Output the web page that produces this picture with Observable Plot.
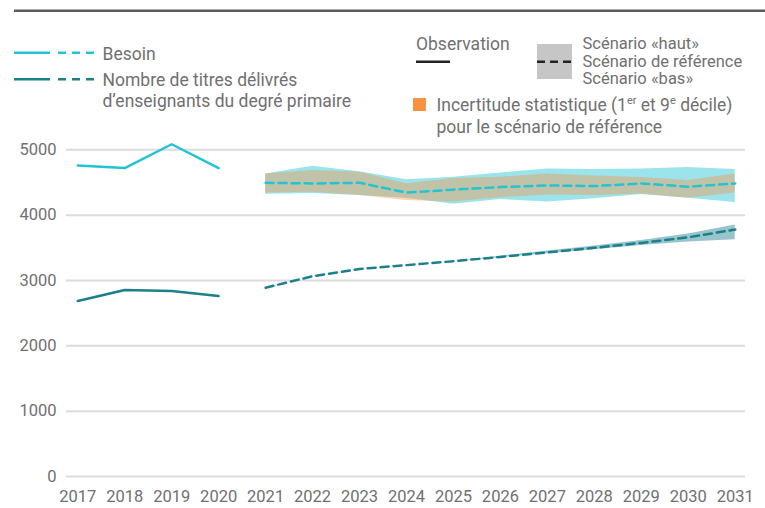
<!DOCTYPE html>
<html>
<head>
<meta charset="utf-8">
<script src="https://cdn.jsdelivr.net/npm/d3@7"></script>
<script src="https://cdn.jsdelivr.net/npm/@observablehq/plot@0.6"></script>
<style>
  html, body { margin: 0; padding: 0; background: #fff; }
  #wrap { position: relative; width: 765px; height: 508px; overflow: hidden; font-family: Roboto, sans-serif; }
  #wrap > svg { position: absolute; left: 0; top: 0; }
  #legend { pointer-events: none; }
</style>
</head>
<body>
<div id="wrap"></div>
<script>
// ---- data ----
const yearsObs = [2017, 2018, 2019, 2020];
const besoinObs = [4760, 4720, 5085, 4720];
const titresObs = [2685, 2853, 2838, 2761];

const yearsProj = [2021, 2022, 2023, 2024, 2025, 2026, 2027, 2028, 2029, 2030, 2031];
const besoinRef  = [4495, 4485, 4495, 4345, 4390, 4430, 4455, 4445, 4485, 4435, 4485];
const besoinHaut = [4630, 4750, 4665, 4540, 4580, 4645, 4705, 4700, 4705, 4730, 4700];
const besoinBas  = [4320, 4330, 4300, 4260, 4165, 4240, 4200, 4250, 4315, 4260, 4195];
const incertHi   = [4630, 4685, 4655, 4480, 4560, 4580, 4630, 4600, 4575, 4530, 4630];
const incertLo   = [4340, 4350, 4300, 4225, 4200, 4265, 4310, 4300, 4325, 4260, 4340];

const titresRef  = [2890, 3065, 3175, 3235, 3295, 3360, 3430, 3500, 3575, 3660, 3780];
const titresHaut = [2890, 3065, 3175, 3235, 3295, 3372, 3450, 3528, 3612, 3710, 3850];
const titresBas  = [2890, 3065, 3175, 3235, 3295, 3348, 3410, 3470, 3535, 3590, 3625];

const yTicks = [0, 1000, 2000, 3000, 4000, 5000];
const xTicks = [2017, 2018, 2019, 2020, 2021, 2022, 2023, 2024, 2025, 2026, 2027, 2028, 2029, 2030, 2031];

// ---- tables ----
const obs = yearsObs.map((year, i) => ({year, besoin: besoinObs[i], titres: titresObs[i]}));
const proj = yearsProj.map((year, i) => ({
  year, bRef: besoinRef[i], bHaut: besoinHaut[i], bBas: besoinBas[i],
  iHi: incertHi[i], iLo: incertLo[i],
  tRef: titresRef[i], tHaut: titresHaut[i], tBas: titresBas[i]
}));

const cBesoin = "#22c4d4";
const cTitres = "#1b7f8c";
const cOrange = "#f79240";
const txt = "#707070";

const plot = Plot.plot({
  width: 765,
  height: 508,
  marginTop: 149.3,
  marginBottom: 32,
  marginLeft: 66,
  marginRight: 20,
  style: { fontFamily: "Roboto, sans-serif", fontSize: "16.5px", color: txt, background: "transparent", overflow: "visible" },
  x: { domain: [2016.76, 2031.219], axis: null },
  y: { domain: [0, 5000], axis: null },
  marks: [
    Plot.ruleY(yTicks, { stroke: "#dcdcdc", strokeWidth: 2 }),
    Plot.axisY({ ticks: yTicks, tickSize: 0, tickPadding: 10, tickFormat: d => String(d), label: null, fill: txt }),
    Plot.axisX({ ticks: xTicks, tickSize: 0, tickPadding: 14, tickFormat: d => String(d), label: null, fill: txt }),
    Plot.areaY(proj, { x: "year", y1: "bBas", y2: "bHaut", fill: cBesoin, fillOpacity: 0.45 }),
    Plot.areaY(proj, { x: "year", y1: "iLo", y2: "iHi", fill: cOrange, fillOpacity: 0.4 }),
    Plot.areaY(proj, { x: "year", y1: "tBas", y2: "tHaut", fill: cTitres, fillOpacity: 0.45 }),
    Plot.lineY(obs, { x: "year", y: "besoin", stroke: cBesoin, strokeWidth: 2.5 }),
    Plot.lineY(obs, { x: "year", y: "titres", stroke: cTitres, strokeWidth: 2.5 }),
    Plot.lineY(proj, { x: "year", y: "bRef", stroke: cBesoin, strokeWidth: 2.5, strokeDasharray: "8,5" }),
    Plot.lineY(proj, { x: "year", y: "tRef", stroke: cTitres, strokeWidth: 2.5, strokeDasharray: "8,5" })
  ]
});

const wrap = document.getElementById("wrap");
plot.style.background = "#fff";
wrap.appendChild(plot);

// ---- legend overlay ----
const lg = d3.select(wrap).append("svg")
  .attr("id", "legend").attr("width", 765).attr("height", 508)
  .style("font-family", "Roboto, sans-serif").style("font-size", "17.5px");

lg.append("line").attr("x1", 14).attr("x2", 765).attr("y1", 10.7).attr("y2", 10.7)
  .attr("stroke", "#5c5c5c").attr("stroke-width", 2.6);

function sample(y, color) {
  lg.append("line").attr("x1", 14).attr("x2", 50).attr("y1", y).attr("y2", y)
    .attr("stroke", color).attr("stroke-width", 2.5);
  lg.append("line").attr("x1", 58).attr("x2", 95).attr("y1", y).attr("y2", y)
    .attr("stroke", color).attr("stroke-width", 2.5).attr("stroke-dasharray", "8,6");
}
function text(x, y, s, size) {
  const el = lg.append("text").attr("x", x).attr("y", y).attr("fill", txt).text(s);
  if (size) el.attr("font-size", size);
  return el;
}
sample(52.7, cBesoin);
text(102.5, 60, "Besoin");
sample(79.3, cTitres);
text(102.5, 86, "Nombre de titres délivrés");
text(102.5, 107, "d’enseignants du degré primaire");

text(416, 50, "Observation");
lg.append("line").attr("x1", 416).attr("x2", 450).attr("y1", 61.7).attr("y2", 61.7)
  .attr("stroke", "#222").attr("stroke-width", 2.5);

lg.append("rect").attr("x", 537).attr("y", 44).attr("width", 35).attr("height", 35).attr("fill", "#c6c6c6");
lg.append("line").attr("x1", 537).attr("x2", 572).attr("y1", 61.7).attr("y2", 61.7)
  .attr("stroke", "#222").attr("stroke-width", 2.5).attr("stroke-dasharray", "8,5");
text(582.5, 49, "Scénario «haut»", "16.5px");
text(582.5, 66.5, "Scénario de référence", "16.5px");
text(582.5, 84, "Scénario «bas»", "16.5px");

lg.append("rect").attr("x", 413).attr("y", 98).attr("width", 13).attr("height", 13).attr("fill", cOrange);
const t = text(436.5, 111, "Incertitude statistique (1");
t.append("tspan").attr("font-size", "11px").attr("dy", -7).text("er");
t.append("tspan").attr("dy", 7).text(" et 9");
t.append("tspan").attr("font-size", "11px").attr("dy", -7).text("e");
t.append("tspan").attr("dy", 7).text(" décile)");
text(436.5, 132.5, "pour le scénario de référence");
</script>
</body>
</html>
